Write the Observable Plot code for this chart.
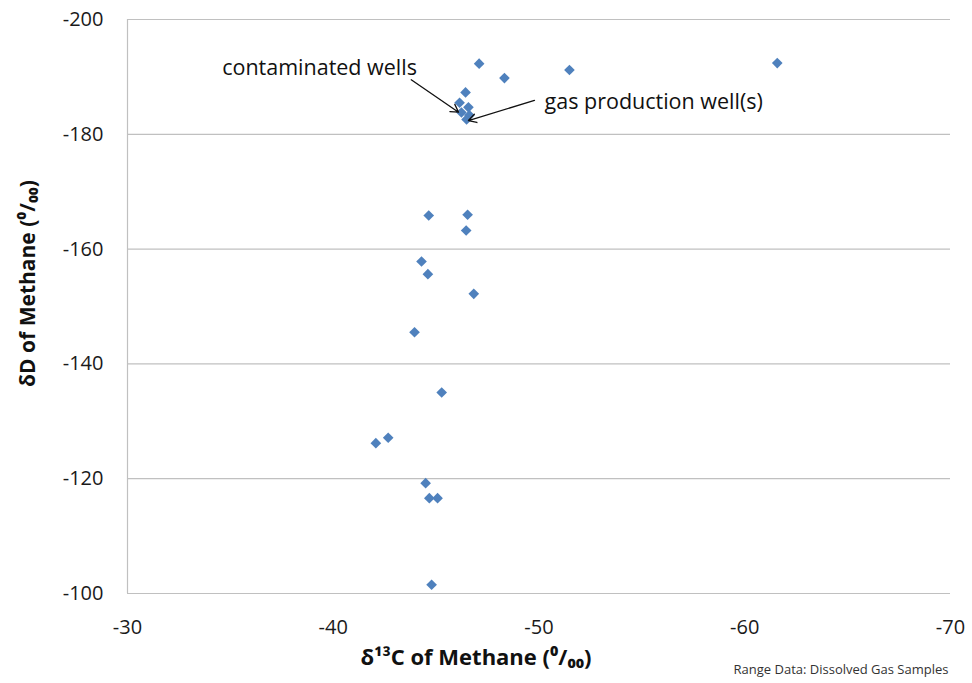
<!DOCTYPE html>
<html><head><meta charset="utf-8">
<script src="https://cdn.jsdelivr.net/npm/d3@7"></script>
<script src="https://cdn.jsdelivr.net/npm/@observablehq/plot@0.6"></script>
<style>body{margin:0;background:#fff} svg{display:block}</style>
</head><body><div id="chart"></div>
<script>
// δ13C of methane (‰)
const d13C = [-61.58, -47.09, -51.48, -48.32, -46.43, -46.14, -46.57, -46.23, -46.62, -46.48,
  -44.64, -46.53, -46.46, -44.29, -44.60, -46.83, -43.95, -45.27, -42.07, -42.67, -44.49, -44.67, -45.07, -44.78];
// δD of methane (‰)
const dD = [-192.4, -192.3, -191.2, -189.8, -187.3, -185.5, -184.7, -183.8, -183.3, -182.6,
  -165.85, -165.98, -163.24, -157.84, -155.63, -152.21, -145.52, -135.02, -126.19, -127.13, -119.22, -116.61, -116.61, -101.52];
const xTicks = [-30, -40, -50, -60, -70];
const yTicks = [-200, -180, -160, -140, -120, -100];
const noteLabels = ["contaminated wells", "gas production well(s)"];
const noteX = [-34.6, -50.27];
const noteY = [-191.6, -185.6];
const arrowX1 = [-43.79, -49.78];
const arrowY1 = [-189.5, -185.9];
const arrowX2 = [-46.09, -46.57];
const arrowY2 = [-183.85, -182.4];
const xTitle = "δ¹³C of Methane (⁰/₀₀)";
const yTitle = "δD of Methane (⁰/₀₀)";
const caption = "Range Data: Dissolved Gas Samples";

const points = d13C.map((x, i) => ({x, y: dD[i]}));
const notes = noteLabels.map((label, i) => ({label, x: noteX[i], y: noteY[i]}));
const arrows = arrowX1.map((x1, i) => ({x1, y1: arrowY1[i], x2: arrowX2[i], y2: arrowY2[i]}));

const chart = Plot.plot({
  width: 972,
  height: 683,
  marginLeft: 127,
  marginRight: 22,
  marginTop: 19,
  marginBottom: 90,
  style: {fontFamily: "'Open Sans', sans-serif", background: "#fff"},
  x: {domain: [-30, -70]},
  y: {domain: [-100, -200]},
  marks: [
    Plot.gridY(yTicks, {stroke: "#c0c0c0", strokeOpacity: 1, strokeWidth: 1.2}),
    Plot.ruleX([-30], {stroke: "#c0c0c0", strokeWidth: 1.2}),
    Plot.axisY(yTicks, {tickSize: 0, tickPadding: 24, fontSize: 20, fill: "#1a1a1a", label: null, tickFormat: d => String(d)}),
    Plot.axisX(xTicks, {tickSize: 0, tickPadding: 26, fontSize: 20, fill: "#1a1a1a", label: null, tickFormat: d => String(d)}),
    Plot.dot(points, {x: "x", y: "y", symbol: "diamond2", r: 4.8, fill: "#4F81BD"}),
    Plot.arrow(arrows, {x1: "x1", y1: "y1", x2: "x2", y2: "y2", stroke: "#111", strokeWidth: 1.3, headLength: 10, bend: 0}),
    Plot.text(notes, {x: "x", y: "y", text: "label", textAnchor: "start", fontSize: 21.5, fill: "#111"}),
    Plot.text([yTitle], {frameAnchor: "left", textAnchor: "middle", dx: -99, dy: -23, rotate: -90, fontWeight: "bold", fontSize: 21, fill: "#111"}),
    Plot.text([xTitle], {frameAnchor: "bottom", textAnchor: "middle", dx: -63, dy: 71, fontWeight: "bold", fontSize: 22, fill: "#111"}),
    Plot.text([caption], {frameAnchor: "bottom-right", textAnchor: "end", dx: -2, dy: 80, fontSize: 13, fill: "#333"})
  ]
});
document.getElementById("chart").appendChild(chart);
</script>
</body></html>
